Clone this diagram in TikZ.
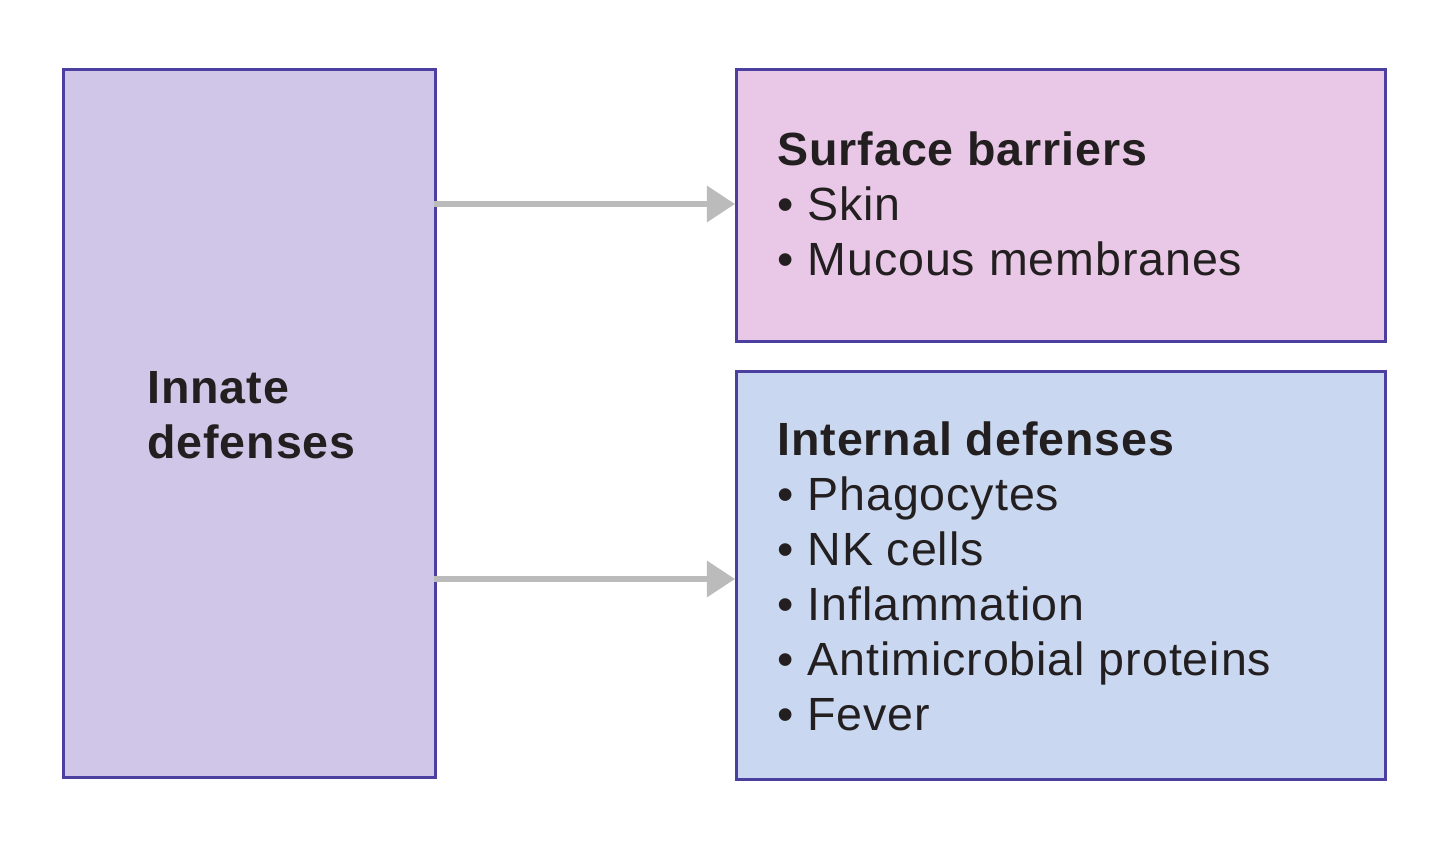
\documentclass[tikz,border=0pt]{standalone}
\usepackage{fontspec}
\setmainfont{Liberation Sans}
\usetikzlibrary{arrows.meta}
\definecolor{boxline}{HTML}{4B3FA0}
\definecolor{innatefill}{HTML}{D0C6E8}
\definecolor{surfacefill}{HTML}{E8C8E6}
\definecolor{internalfill}{HTML}{C9D8F0}
\definecolor{arrowgray}{HTML}{BBBBBB}
\definecolor{textdark}{HTML}{231F20}
\begin{document}
\begin{tikzpicture}[x=0.02cm,y=-0.02cm,
                    box/.style={draw=boxline,line width=1.7pt},
                    label text/.style={anchor=north west,align=left,inner sep=0pt,
                      text=textdark,font=\fontsize{26.5}{31.3}\selectfont\addfontfeature{LetterSpace=2}},
                    link/.style={draw=arrowgray,line width=3.4pt,
                      -{Triangle[length=16pt,width=20pt]}}]
  \useasboundingbox (0,0) rectangle (1440,855);
  \node[box,fill=innatefill,minimum width=372*0.02cm,minimum height=708*0.02cm,
        anchor=north west] (innate) at (62,68) {};
  \node[box,fill=surfacefill,minimum width=649*0.02cm,minimum height=272*0.02cm,
        anchor=north west] (surface) at (735,68) {};
  \node[box,fill=internalfill,minimum width=649*0.02cm,minimum height=408*0.02cm,
        anchor=north west] (internal) at (735,370) {};
  \node[label text] (innatetext) at (147,371) {\textbf{Innate}\\\textbf{defenses}};
  \node[label text] (surfacetext) at (777,131)
    {\textbf{Surface barriers}\\• Skin\\• Mucous membranes};
  \node[label text] (internaltext) at (777,421)
    {\textbf{Internal defenses}\\• Phagocytes\\• NK cells\\• Inflammation\\%
     • Antimicrobial proteins\\• Fever};
  \coordinate (top) at (434,204);
  \coordinate (bottom) at (434,579);
  \draw[link] (top) -- (top -| surface.west);
  \draw[link] (bottom) -- (bottom -| internal.west);
\end{tikzpicture}
\end{document}
